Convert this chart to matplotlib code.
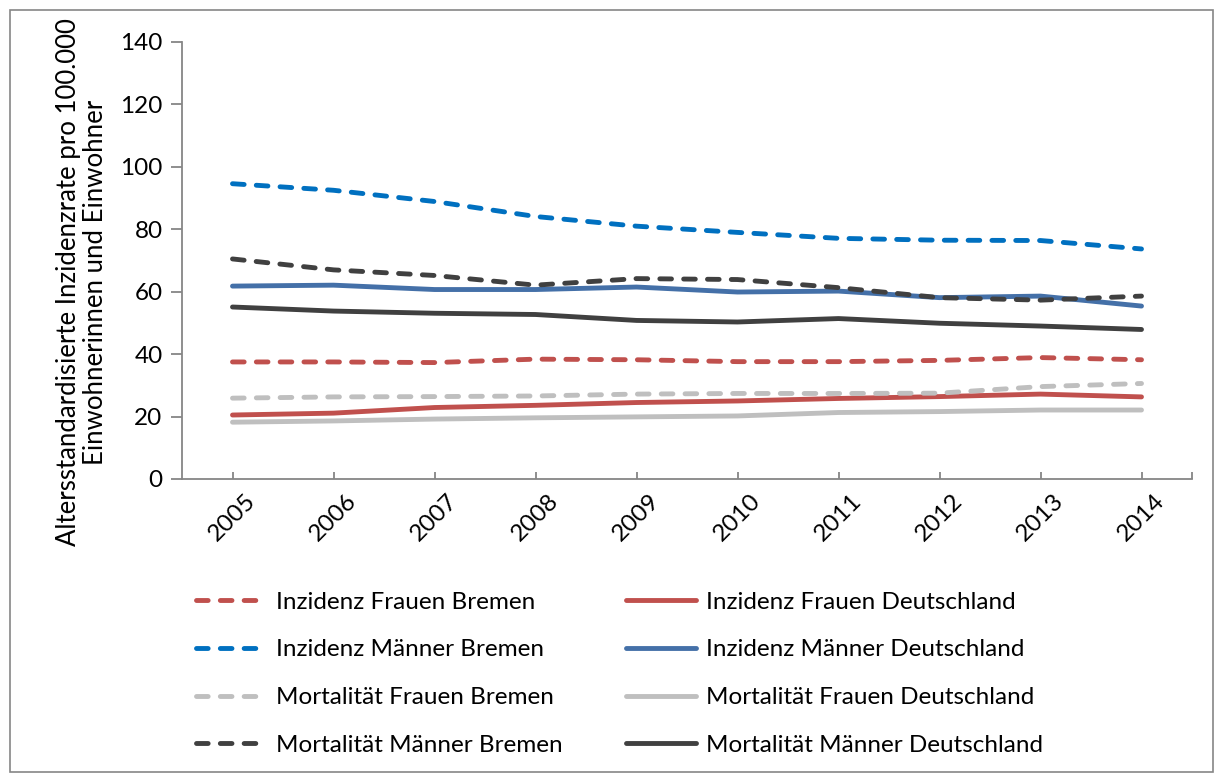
import matplotlib
matplotlib.use("Agg")
import matplotlib.pyplot as plt
from matplotlib.patches import Rectangle

plt.rcParams['font.family'] = ['Lato', 'DejaVu Sans']

years = ['2005', '2006', '2007', '2008', '2009', '2010', '2011', '2012', '2013', '2014']

inz_frauen_bremen = [37.5, 37.5, 37.3, 38.4, 38.2, 37.6, 37.6, 38.0, 38.9, 38.2]
inz_frauen_de = [20.5, 21.1, 22.9, 23.6, 24.5, 25.0, 25.8, 26.4, 27.2, 26.3]
inz_maenner_bremen = [94.6, 92.5, 88.9, 84.1, 81.0, 79.0, 77.1, 76.5, 76.4, 73.7]
inz_maenner_de = [61.8, 62.1, 60.7, 60.7, 61.5, 59.9, 60.2, 58.1, 58.6, 55.4]
mort_frauen_bremen = [25.9, 26.3, 26.4, 26.6, 27.2, 27.4, 27.4, 27.5, 29.6, 30.6]
mort_frauen_de = [18.2, 18.6, 19.2, 19.6, 19.9, 20.2, 21.3, 21.6, 22.1, 22.1]
mort_maenner_bremen = [70.5, 67.0, 65.2, 62.1, 64.2, 63.9, 61.3, 58.1, 57.3, 58.6]
mort_maenner_de = [55.1, 53.8, 53.1, 52.7, 50.8, 50.3, 51.4, 49.9, 49.0, 47.9]

labels = ['Inzidenz Frauen Bremen', 'Inzidenz Frauen Deutschland',
          'Inzidenz Männer Bremen', 'Inzidenz Männer Deutschland',
          'Mortalität Frauen Bremen', 'Mortalität Frauen Deutschland',
          'Mortalität Männer Bremen', 'Mortalität Männer Deutschland']

RED = '#C0504D'
BLUE_D = '#0070C0'
BLUE_S = '#4470A8'
LGRAY = '#BFBFBF'
DGRAY = '#404040'
AXC = '#868686'
FS = 17.5

fig = plt.figure(figsize=(12.15, 7.74), dpi=100)
fig.patches.append(Rectangle((10/1215, 2/774), 1203/1215, 762/774, transform=fig.transFigure,
                             fill=False, edgecolor=AXC, linewidth=1.2))
ax = fig.add_axes([182/1215, 1-479/774, 1010/1215, 437/774])

x = list(range(len(years)))
lw = 3.5
dash = (2.4, 2.5)
series = [
    (inz_frauen_bremen, RED, True),
    (inz_frauen_de, RED, False),
    (inz_maenner_bremen, BLUE_D, True),
    (inz_maenner_de, BLUE_S, False),
    (mort_frauen_bremen, LGRAY, True),
    (mort_frauen_de, LGRAY, False),
    (mort_maenner_bremen, DGRAY, True),
    (mort_maenner_de, DGRAY, False),
]
handles = []
for (vals, col, dashed), lab in zip(series, labels):
    if dashed:
        l, = ax.plot(x, vals, color=col, lw=lw, dashes=dash, dash_capstyle='round',
                     solid_capstyle='round', label=lab)
    else:
        l, = ax.plot(x, vals, color=col, lw=lw, solid_capstyle='round', label=lab)
    handles.append(l)

ax.set_xlim(-0.5, 9.5)
ax.set_ylim(0, 140)
ax.set_yticks(range(0, 141, 20))
ax.set_xticks(x + [9.5])
ax.set_xticklabels(years + [''], rotation=45, ha='center', va='top')
for s in ['top', 'right']:
    ax.spines[s].set_visible(False)
for s in ['left', 'bottom']:
    ax.spines[s].set_color(AXC)
    ax.spines[s].set_linewidth(1.3)
ax.tick_params(axis='y', direction='out', length=8, width=1.3, color=AXC, labelsize=FS, pad=6)
ax.tick_params(axis='x', direction='in', length=5, width=1.3, color=AXC, labelsize=FS, pad=8)

fig.text(82/1215, 1-282/774,
         'Altersstandardisierte Inzidenzrate pro 100.000\nEinwohnerinnen und Einwohner',
         rotation=90, ha='center', va='center', multialignment='center', fontsize=18.5,
         linespacing=1.1)

idx = [0, 2, 4, 6, 1, 3, 5, 7]
leg = fig.legend([handles[i] for i in idx], [labels[i] for i in idx], ncol=2, loc='upper left',
                 bbox_to_anchor=(186/1215, 1-582/774), frameon=False, fontsize=FS,
                 handlelength=2.9, handletextpad=0.4, columnspacing=2.6, labelspacing=1.1,
                 borderaxespad=0)

fig.savefig('out.png', dpi=100)
